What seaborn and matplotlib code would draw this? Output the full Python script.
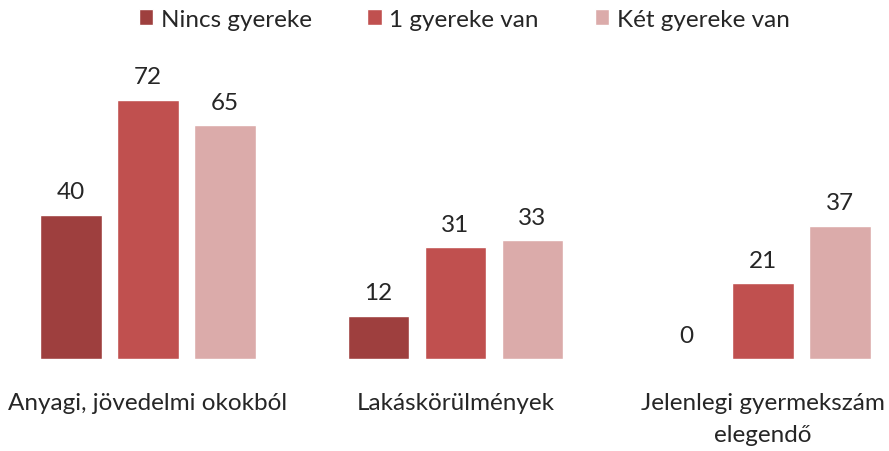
import pandas as pd
import numpy as np
import seaborn as sns
import matplotlib.pyplot as plt
from matplotlib.patches import Patch

categories = ['Anyagi, jövedelmi okokból', 'Lakáskörülmények', 'Jelenlegi gyermekszám\nelegendő']
series = ['Nincs gyereke', '1 gyereke van', 'Két gyereke van']
nincs = [40, 12, 0]
egy = [72, 31, 21]
ketto = [65, 33, 37]
colors = ['#9E3F3E', '#C0504F', '#DBABAA']

rows = []
for name, vals in zip(series, [nincs, egy, ketto]):
    for cat, v in zip(categories, vals):
        rows.append({'cat': cat, 'series': name, 'value': v})
df = pd.DataFrame(rows)

sns.set_style('white')
plt.rcParams['font.family'] = ['Lato', 'DejaVu Sans']

fig = plt.figure(figsize=(8.89, 4.52), dpi=100)
ax = fig.add_axes([0, 92 / 452, 1, 300 / 452])

sns.barplot(data=df, x='cat', y='value', hue='series', palette=colors,
            width=0.75, gap=0.2, saturation=1, ax=ax, legend=False)

for c in ax.containers:
    ax.bar_label(c, padding=9, fontsize=17.5)

ax.set_xlim(-148 / 307.5, (889 - 148) / 307.5)
ax.set_ylim(0, 300 / 3.6)
ax.set_xlabel('')
ax.set_ylabel('')
ax.set_yticks([])
ax.tick_params(axis='x', length=0, pad=24, labelsize=17.5)
for lbl in ax.get_xticklabels():
    lbl.set_linespacing(1.6)
for s in ax.spines.values():
    s.set_visible(False)

handles = [Patch(facecolor=c, label=s) for c, s in zip(colors, series)]
fig.legend(handles=handles, loc='upper center', bbox_to_anchor=(0.522, 1.0), ncol=3,
           frameon=False, fontsize=17.5, handlelength=0.6, handleheight=0.6,
           handletextpad=0.3, columnspacing=2.3, borderaxespad=0.0)

plt.savefig('out.png', dpi=100)
